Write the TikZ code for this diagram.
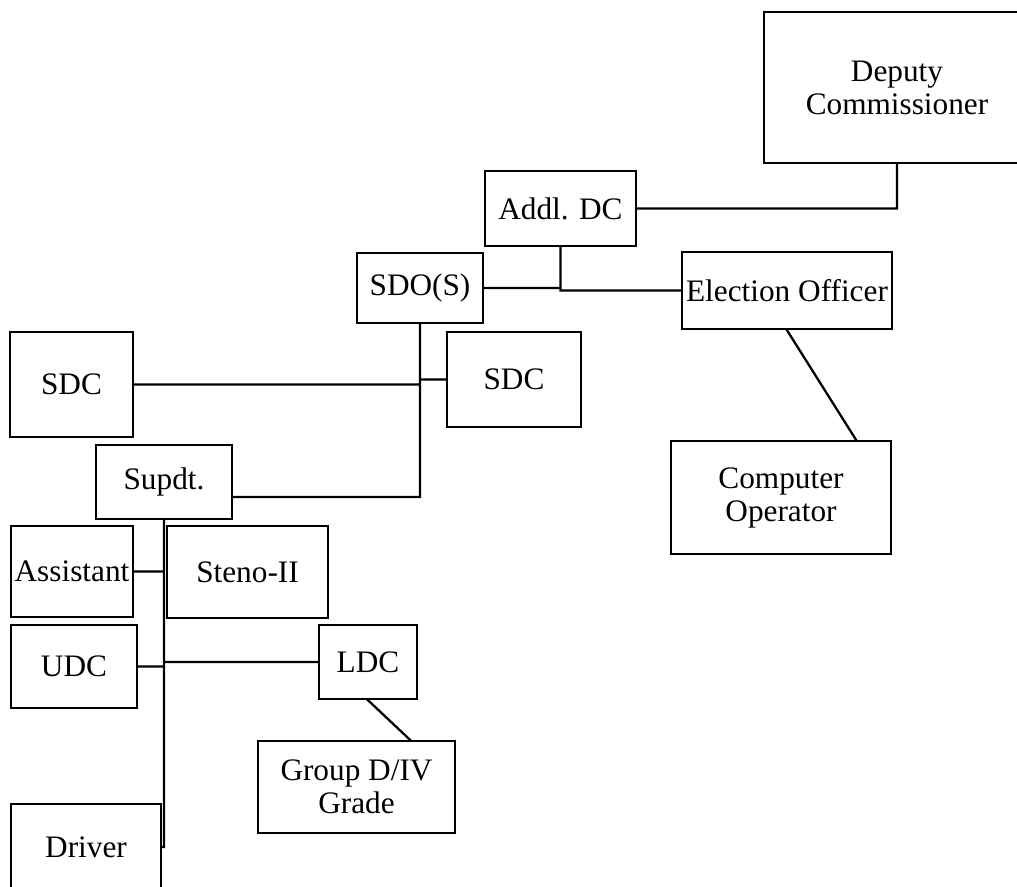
\documentclass[tikz,border=0pt]{standalone}
\usepackage{fontspec}
\setmainfont{Liberation Serif}
\tikzset{
  box/.style 2 args={draw,line width=1.4pt,align=center,inner sep=0pt,
    minimum width=#1*0.02cm,minimum height=#2*0.02cm},
  link/.style={line width=1.3pt}
}
\begin{document}
\begin{tikzpicture}[x=0.02cm,y=-0.02cm,line join=miter,line cap=rect,
  font=\fontsize{17.8}{18.8}\selectfont]
\useasboundingbox (0,0) rectangle (1017,886);

\node[box={266}{151}] (dc) at (897,87.5) {Deputy\\Commissioner};
\node[box={151}{75}] (addl) at (560.5,208.5) {Addl. DC};
\node[box={210}{77}] (eo) at (787,290.5) {Election Officer};
\node[box={126}{70}] (sdo) at (420,288) {SDO(S)};
\node[box={220}{113}] (co) at (781,497.5) {Computer\\Operator};
\node[box={123}{105}] (sdcl) at (71.5,384.5) {SDC};
\node[box={134}{95}] (sdcr) at (514,379.5) {SDC};
\node[box={136}{74}] (supdt) at (164,482) {Supdt.};
\node[box={122}{91}] (asst) at (72,571.5) {Assistant};
\node[box={161}{92}] (steno) at (247.5,572) {Steno-II};
\node[box={126}{83}] (udc) at (74,666.5) {UDC};
\node[box={98}{74}] (ldc) at (368,662) {LDC};
\node[box={197}{92}] (grp) at (356.5,787) {Group D/IV\\Grade};
\node[box={150}{86}] (driver) at (86,847) {Driver};

\coordinate (j1) at (420,497);

\draw[link]
(dc.south) |- (addl.east)
(addl.south) |- (eo.west)
(sdo.east) -- (sdo.east -| addl.south)
(eo.south) -- ([xshift=1.5cm]co.north)
(sdo.south) -- (j1) -- (j1 -| supdt.east)
(sdcl.east) -- (sdcl.east -| sdo.south)
(sdcr.west) -- (sdcr.west -| sdo.south)
(supdt.south) |- (driver.east)
(asst.east) -- (asst.east -| supdt.south)
(udc.east) -- (udc.east -| supdt.south)
(ldc.west) -- (ldc.west -| supdt.south)
(ldc.south) -- ([xshift=1.07cm]grp.north);

\end{tikzpicture}
\end{document}
